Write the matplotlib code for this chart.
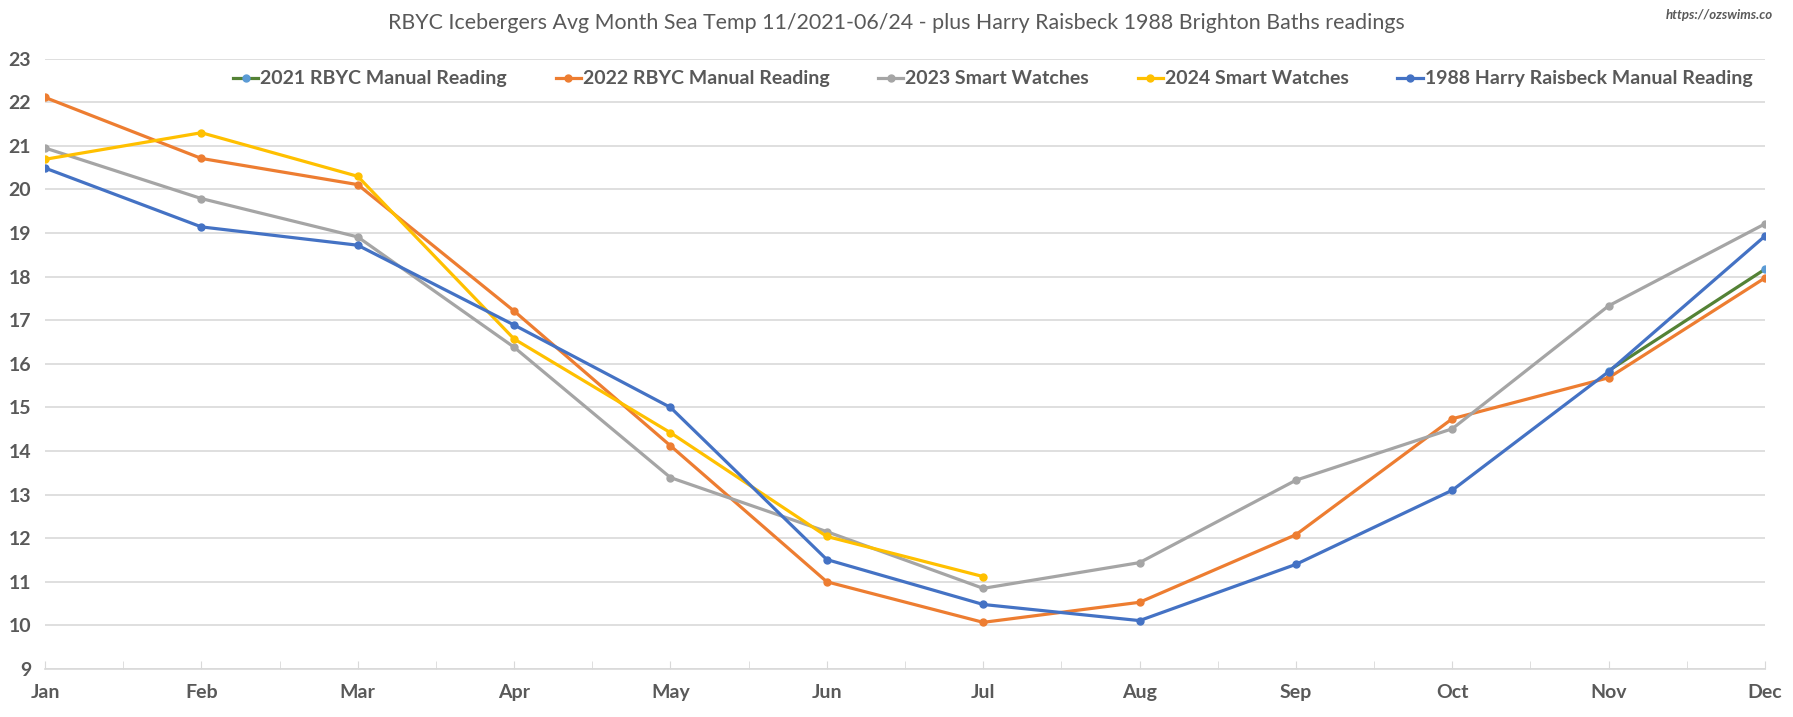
import matplotlib
matplotlib.use("Agg")
import matplotlib.pyplot as plt
from matplotlib.ticker import MultipleLocator

plt.rcParams['font.family'] = ['Lato', 'DejaVu Sans']

# data
months = ['Jan', 'Feb', 'Mar', 'Apr', 'May', 'Jun', 'Jul', 'Aug', 'Sep', 'Oct', 'Nov', 'Dec']

rbyc_2021 = [None] * 10 + [15.84, 18.17]
rbyc_2022 = [22.11, 20.71, 20.11, 17.21, 14.12, 11.00, 10.07, 10.53, 12.08, 14.74, 15.68, 17.97]
watch_2023 = [20.95, 19.79, 18.91, 16.38, 13.39, 12.15, 10.85, 11.44, 13.33, 14.51, 17.33, 19.21]
watch_2024 = [20.69, 21.30, 20.30, 16.57, 14.42, 12.04, 11.12]
harry_1988 = [20.49, 19.14, 18.72, 16.89, 15.00, 11.51, 10.48, 10.11, 11.40, 13.10, 15.82, 18.93]

labels = ['2021 RBYC Manual Reading', '2022 RBYC Manual Reading', '2023 Smart Watches',
          '2024 Smart Watches', '1988 Harry Raisbeck Manual Reading']

grey_txt = '#595959'
grid_col = '#d9d9d9'

fig = plt.figure(figsize=(17.93, 7.17), dpi=100)
ax = fig.add_axes([45 / 1793, 48 / 717, 1720 / 1793, 610.4 / 717])


def plot_series(vals, color, label, mcolor=None):
    xs = [i for i, v in enumerate(vals) if v is not None]
    ys = [v for v in vals if v is not None]
    mc = mcolor or color
    ax.plot(xs, ys, color=color, lw=2.3, marker='o', ms=5,
            markerfacecolor=mc, markeredgecolor=mc, label=label, zorder=3)


plot_series(rbyc_2021, '#548235', labels[0], mcolor='#5b9bd5')
plot_series(rbyc_2022, '#ed7d31', labels[1])
plot_series(watch_2023, '#a5a5a5', labels[2])
plot_series(watch_2024, '#ffc000', labels[3])
plot_series(harry_1988, '#4472c4', labels[4])

ax.set_xlim(0, 11)
ax.set_ylim(9, 23)
ax.set_yticks(range(9, 24))
ax.set_xticks(range(12))
ax.set_xticklabels(months)
ax.xaxis.set_minor_locator(MultipleLocator(0.5))

ax.grid(axis='y', color=grid_col, lw=1.2, zorder=0)
for s in ['top', 'right', 'left']:
    ax.spines[s].set_visible(False)
ax.spines['bottom'].set_color(grid_col)
ax.spines['bottom'].set_linewidth(1.2)

ax.tick_params(axis='y', length=0, pad=10, labelsize=14, labelcolor=grey_txt)
ax.tick_params(axis='x', which='both', direction='in', length=6, color=grid_col,
               pad=11, labelsize=14, labelcolor=grey_txt)
for t in ax.get_xticklabels() + ax.get_yticklabels():
    t.set_fontweight('bold')

leg = ax.legend(loc='center', bbox_to_anchor=(0.551, 0.9666), ncol=5, frameon=False,
                handlelength=1.3, columnspacing=2.5, handletextpad=0.1,
                prop={'size': 14, 'weight': 'bold'})
for t in leg.get_texts():
    t.set_color(grey_txt)

fig.text(0.5, 1 - 23 / 717, 'RBYC Icebergers Avg Month Sea Temp 11/2021-06/24 - plus Harry Raisbeck 1988 Brighton Baths readings',
         ha='center', va='center', fontsize=15.4, color=grey_txt)
fig.text(1773 / 1793, 1 - 15 / 717, 'https://ozswims.co', ha='right', va='center',
         fontsize=9.5, color=grey_txt, style='italic', weight='bold')

fig.savefig('out.png', dpi=100)
